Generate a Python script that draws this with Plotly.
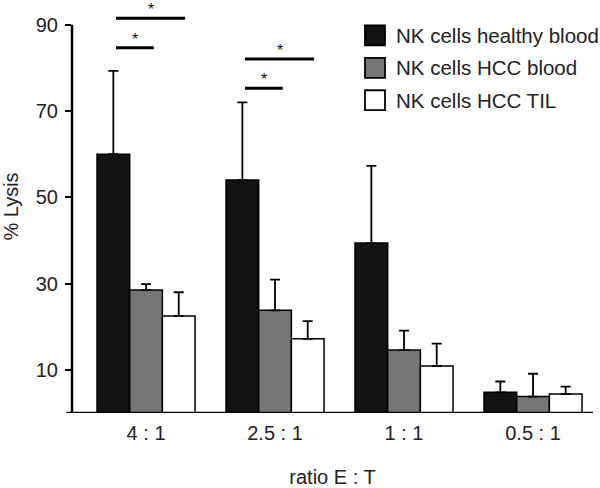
import plotly.graph_objects as go

# data
ratios = ["4 : 1", "2.5 : 1", "1 : 1", "0.5 : 1"]
series_names = ["NK cells healthy blood", "NK cells HCC blood", "NK cells HCC TIL"]
healthy_blood = [60.0, 54.0, 39.4, 4.8]
healthy_blood_err = [19.3, 18.0, 17.9, 2.5]
hcc_blood = [28.5, 23.8, 14.6, 3.8]
hcc_blood_err = [1.4, 7.1, 4.5, 5.3]
hcc_til = [22.5, 17.2, 10.9, 4.4]
hcc_til_err = [5.5, 4.1, 5.2, 1.7]
y_ticks = [10, 30, 50, 70, 90]

# significance brackets: category index, last series spanned, height
sig_cat = [0, 0, 1, 1]
sig_to = [1, 2, 1, 2]
sig_y = [84.7, 91.5, 75.3, 82.1]

colors = ["#121212", "#767676", "#ffffff"]
values = [healthy_blood, hcc_blood, hcc_til]
errors = [healthy_blood_err, hcc_blood_err, hcc_til_err]
FONT = "Liberation Sans, Arial, sans-serif"
BAR_STEP = 0.253

x = list(range(len(ratios)))
fig = go.Figure()
for name, vals, err, col in zip(series_names, values, errors, colors):
    fig.add_trace(go.Bar(
        x=x, y=vals, name=name,
        marker=dict(color=col, line=dict(color="#000", width=1.5)),
        error_y=dict(type="data", symmetric=False, array=err,
                     arrayminus=[0] * len(err), color="#000",
                     thickness=1.8, width=5),
        showlegend=False,
    ))

shapes = []
annotations = []
# axis lines drawn by hand so the y line stops at 90
shapes.append(dict(type="line", xref="paper", yref="y", x0=0, x1=0, y0=0, y1=90,
                   line=dict(color="#000", width=2.5)))
shapes.append(dict(type="line", xref="paper", yref="y", x0=-0.011, x1=1, y0=0, y1=0,
                   line=dict(color="#000", width=2.5)))

for c, t, yv in zip(sig_cat, sig_to, sig_y):
    x0 = c - BAR_STEP + 0.02
    x1 = c + (t - 1) * BAR_STEP + 0.06 - (0.01 if t == 2 else 0)
    shapes.append(dict(type="line", xref="x", yref="y", x0=x0, x1=x1, y0=yv, y1=yv,
                       line=dict(color="#000", width=3)))
    annotations.append(dict(x=(x0 + x1) / 2, y=yv, xref="x", yref="y", text="*",
                            showarrow=False, font=dict(size=16, family=FONT, color="#111"),
                            yanchor="bottom", yshift=-2))

# legend
for i, (name, col) in enumerate(zip(series_names, colors)):
    yc = 35.5 + i * 32.4
    shapes.append(dict(type="rect", xref="paper", yref="paper",
                       x0=(365 - 72) / 521, x1=(385 - 72) / 521,
                       y0=1 - (yc - 10) / 413.3, y1=1 - (yc + 10) / 413.3,
                       fillcolor=col, line=dict(color="#000", width=1.8)))
    annotations.append(dict(x=(394 - 72) / 521, y=1 - yc / 413.3, xref="paper", yref="paper",
                            text=name, showarrow=False, xanchor="left", yanchor="middle",
                            font=dict(size=20.5, family=FONT, color="#222")))

fig.update_layout(
    width=600, height=488,
    margin=dict(l=72, r=7, t=0, b=75),
    paper_bgcolor="white", plot_bgcolor="white",
    barmode="group", bargap=0.24, bargroupgap=0,
    font=dict(family=FONT, size=20, color="#222"),
    shapes=shapes, annotations=annotations,
    xaxis=dict(range=[-0.574, 3.465], tickvals=x, ticktext=ratios, automargin=False,
               showline=False, showgrid=False, zeroline=False, ticks="",
               ticklabelstandoff=6,
               title=dict(text="ratio E : T", standoff=33,
                          font=dict(size=20, family=FONT, color="#222"))),
    yaxis=dict(range=[0, 95.75], tickvals=y_ticks, showline=False, showgrid=False,
               zeroline=False, ticks="outside", ticklen=6, tickwidth=2, tickcolor="#000",
               ticklabelstandoff=3, automargin=False,
               title=dict(text="% Lysis", standoff=12,
                          font=dict(size=20, family=FONT, color="#222"))),
)

# page body has a default 8px margin; drop it so the figure fills the window
fig.write_html("out.html", config={"displayModeBar": False},
               post_script="document.body.style.margin='0px';")
